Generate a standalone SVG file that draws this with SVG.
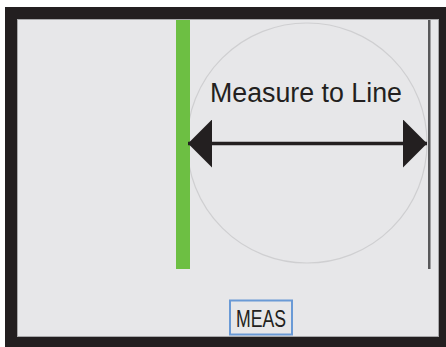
<svg xmlns="http://www.w3.org/2000/svg" width="446" height="347" viewBox="0 0 446 347">
<style>
.lbl{font-family:"Liberation Sans",Arial,sans-serif;fill:#231f20}
</style>
<defs>
<marker id="ah" viewBox="0 0 24 48" refX="24" refY="24" markerWidth="24" markerHeight="48" markerUnits="userSpaceOnUse" orient="auto-start-reverse">
<path d="M0,0 L24,24 L0,48 Z" fill="#231f20"/>
</marker>
</defs>
<rect x="0" y="0" width="446" height="347" fill="#ffffff"/>
<g id="frame">
<rect x="5" y="7" width="441" height="340" fill="#231f20"/>
<rect x="17.5" y="19.5" width="421" height="317" fill="#e7e7e9" stroke="#a8a8aa" stroke-width="1"/>
</g>
<g id="circle">
<circle cx="307" cy="143" r="120" fill="none" stroke="#cfcfd1" stroke-width="1.2"/>
</g>
<g id="green-line">
<rect x="176" y="20" width="14" height="249" fill="#6dbf43"/>
</g>
<g id="target-line">
<rect x="428" y="20" width="2.5" height="249" fill="#58585a"/>
</g>
<g id="connectors">
<line x1="188" y1="143.5" x2="427" y2="143.5" stroke="#231f20" stroke-width="3.5" marker-start="url(#ah)" marker-end="url(#ah)"/>
</g>
<g id="label">
<text class="lbl" x="210" y="102" font-size="27" textLength="192" lengthAdjust="spacingAndGlyphs">Measure to Line</text>
</g>
<g id="meas">
<rect x="230" y="300.5" width="62" height="34" fill="#e7e7e9" stroke="#6a9ad6" stroke-width="2"/>
<text class="lbl" x="236" y="327" font-size="24" textLength="50" lengthAdjust="spacingAndGlyphs">MEAS</text>
</g>
</svg>
